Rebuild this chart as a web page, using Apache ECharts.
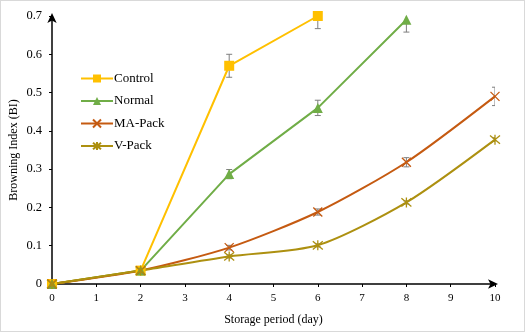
<!DOCTYPE html>
<html>
<head>
<meta charset="utf-8">
<script src="https://cdn.jsdelivr.net/npm/echarts@6/dist/echarts.min.js"></script>
<style>
  html, body { margin: 0; padding: 0; background: #fff; }
  #main { width: 523px; height: 330px; border: 1px solid #d9d9d9; }
</style>
</head>
<body>
<div id="main"></div>
<script>
var days = [0, 2, 4, 6, 8, 10];
var controlBI = [0, 0.035, 0.57, 0.70];
var normalBI = [0, 0.035, 0.287, 0.46, 0.69];
var maPackBI = [0, 0.035, 0.095, 0.188, 0.318, 0.49];
var vPackBI = [0, 0.035, 0.072, 0.101, 0.213, 0.377];
// standard errors (only where visible)
var controlErr = [0, 0, 0.03, 0.033];
var normalErr = [0, 0, 0.012, 0.02, 0.032];
var maPackErr = [0, 0, 0.006, 0.008, 0.012, 0.024];
var vPackErr = [0, 0, 0.004, 0.004, 0.004, 0.005];

var serif = '"Liberation Serif", "Times New Roman", serif';

function pairs(vals) {
    return vals.map(function (v, i) { return [days[i], v]; });
}
function errData(vals, errs) {
    var out = [];
    vals.forEach(function (v, i) {
        if (errs[i] > 0) out.push([days[i], v - errs[i], v + errs[i]]);
    });
    return out;
}
function errSeries(vals, errs) {
    return {
        type: 'custom',
        clip: true,
        z: 1,
        silent: true,
        data: errData(vals, errs),
        renderItem: function (params, api) {
            var lo = api.coord([api.value(0), api.value(1)]);
            var hi = api.coord([api.value(0), api.value(2)]);
            var w = 3;
            var st = { stroke: '#7f7f7f', lineWidth: 1 };
            return {
                type: 'group',
                children: [
                    { type: 'line', shape: { x1: lo[0], y1: lo[1], x2: hi[0], y2: hi[1] }, style: st },
                    { type: 'line', shape: { x1: lo[0] - w, y1: lo[1], x2: lo[0] + w, y2: lo[1] }, style: st },
                    { type: 'line', shape: { x1: hi[0] - w, y1: hi[1], x2: hi[0] + w, y2: hi[1] }, style: st }
                ]
            };
        }
    };
}
function lineSeries(name, vals, color, symbol, size, smooth, stroked) {
    return {
        name: name,
        type: 'line',
        data: pairs(vals),
        smooth: smooth,
        z: 3,
        symbol: symbol,
        symbolSize: size,
        showAllSymbol: true,
        lineStyle: { color: color, width: 2 },
        itemStyle: stroked
            ? { color: 'rgba(0,0,0,0)', borderColor: color, borderWidth: 1.3 }
            : { color: color, borderColor: color, borderWidth: 0 }
    };
}

var chart = echarts.init(document.getElementById('main'));
chart.setOption({
    animation: false,
    grid: { left: 51, right: 29, top: 15, bottom: 47, outerBoundsMode: 'none' },
    legend: {
        orient: 'vertical',
        left: 79,
        top: 71,
        padding: 0,
        itemWidth: 32,
        itemHeight: 10,
        itemGap: 9.5,
        data: ['Control', 'Normal', 'MA-Pack', 'V-Pack'],
        textStyle: { fontFamily: serif, fontSize: 13, color: '#000', padding: [0, 0, 0, -4] }
    },
    xAxis: {
        type: 'value',
        min: 0, max: 10, interval: 1,
        name: 'Storage period (day)',
        nameLocation: 'middle',
        nameGap: 30,
        nameMoveOverlap: false,
        nameTextStyle: { fontFamily: serif, fontSize: 12, color: '#000' },
        axisLine: { onZero: false, symbol: ['none', 'arrow'], symbolSize: [7, 10], symbolOffset: [0, 3], lineStyle: { color: '#000', width: 1.5 } },
        axisTick: { show: true, length: 3, lineStyle: { color: '#000' } },
        axisLabel: { fontFamily: serif, fontSize: 11, color: '#000', margin: 9 },
        splitLine: { show: false }
    },
    yAxis: {
        type: 'value',
        min: 0, max: 0.7, interval: 0.1,
        name: 'Browning Index (BI)',
        nameLocation: 'middle',
        nameGap: 32,
        nameMoveOverlap: false,
        nameTextStyle: { fontFamily: serif, fontSize: 12, color: '#000' },
        axisLine: { show: true, symbol: ['none', 'arrow'], symbolSize: [7, 10], symbolOffset: [0, 3], lineStyle: { color: '#000', width: 1.5 } },
        axisTick: { show: true, length: 3, lineStyle: { color: '#000' } },
        axisLabel: {
            fontFamily: serif, fontSize: 12.5, color: '#000', margin: 10,
            formatter: function (v) { return v === 0 ? '0' : v.toFixed(1); }
        },
        splitLine: { show: false }
    },
    series: [
        lineSeries('Control', controlBI, '#ffc000', 'rect', 10, false, false),
        lineSeries('Normal', normalBI, '#70ad47', 'triangle', 10, false, false),
        lineSeries('MA-Pack', maPackBI, '#c55a11', 'path://M0,0L10,10M10,0L0,10', 9, 0.25, true),
        lineSeries('V-Pack', vPackBI, '#ad9010', 'path://M0,0L10,10M10,0L0,10M5,-1L5,11', 10, 0.25, true),
        errSeries(controlBI, controlErr),
        errSeries(normalBI, normalErr),
        errSeries(maPackBI, maPackErr),
        errSeries(vPackBI, vPackErr)
    ]
});
</script>
</body>
</html>
